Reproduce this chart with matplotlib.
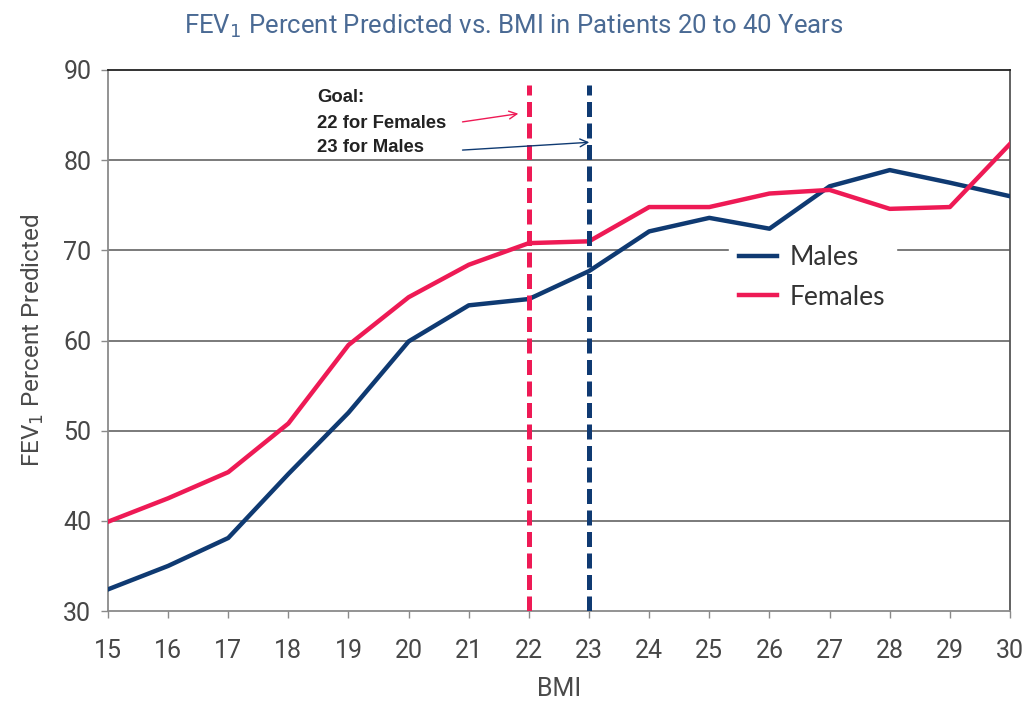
import numpy as np
import matplotlib.pyplot as plt

plt.rcParams['font.family'] = ['Roboto', 'DejaVu Sans']

bmi = np.arange(15, 31)
males = [32.4, 35.0, 38.1, 45.2, 52.0, 59.9, 63.9, 64.6, 67.7, 72.1, 73.6, 72.4, 77.1, 78.9, 77.5, 76.0]
females = [39.9, 42.5, 45.4, 50.8, 59.5, 64.8, 68.4, 70.8, 71.0, 74.8, 74.8, 76.3, 76.7, 74.6, 74.8, 81.8]

goal_f, goal_m = 22, 23
goal_lines = ['Goal:', '22 for Females', '23 for Males']

navy = '#0f3a72'
pink = '#ee1a55'
tick_col = '#474747'

fig = plt.figure(figsize=(10.34, 7.02), dpi=100)
ax = fig.add_axes([0.1044, 0.1296, 0.8724, 0.7707])

for y in range(40, 90, 10):
    ax.axhline(y, color='#7a7a7a', lw=1.4, zorder=1)

ax.plot(bmi, males, color=navy, lw=3.2, label='Males', zorder=3)
ax.plot(bmi, females, color=pink, lw=3.2, label='Females', zorder=3)

# goal markers
ax.vlines(goal_f, 30, 88.3, colors=pink, lw=3.6, linestyles=(0, (3, 1.3)), zorder=4)
ax.vlines(goal_m, 30, 88.3, colors=navy, lw=3.6, linestyles=(0, (3, 1.3)), zorder=4)

for txt, yy in zip(goal_lines, [86.9, 84.1, 81.35]):
    ax.text(18.48, yy, txt, fontsize=13.3, fontweight='bold', color='#222222',
            family=['Liberation Sans'], va='center', zorder=5)
ax.annotate('', xy=(21.87, 85.2), xytext=(20.85, 84.2),
            arrowprops=dict(arrowstyle='->', color=pink, lw=1.0, mutation_scale=14), zorder=5)
ax.annotate('', xy=(23.05, 82.0), xytext=(20.85, 81.1),
            arrowprops=dict(arrowstyle='->', color=navy, lw=1.0, mutation_scale=14), zorder=5)

ax.set_xlim(15, 30)
ax.set_ylim(30, 90)
ax.set_xticks(bmi)
ax.set_yticks(range(30, 91, 10))
ax.tick_params(axis='both', colors='#8a8a8a', labelcolor=tick_col, labelsize=18,
               length=5, width=1)
ax.tick_params(axis='x', pad=15)
ax.tick_params(axis='y', pad=7)

for side in ['left', 'bottom']:
    ax.spines[side].set_color('#8a8a8a')
ax.spines['top'].set_color('#222222')
ax.spines['right'].set_color('#555555')
for s in ax.spines.values():
    s.set_linewidth(1.3)

ax.set_xlabel('BMI', fontsize=18, color='#4a4a4a', labelpad=10)
ax.set_ylabel('FEV$_1$ Percent Predicted', fontsize=17.5, color='#4a4a4a', labelpad=12)

leg = ax.legend(loc='upper left', bbox_to_anchor=(0.688, 0.696), borderaxespad=0,
                frameon=True, prop={'family': ['Lato', 'DejaVu Sans'], 'size': 19},
                handlelength=1.42, handletextpad=0.5, labelspacing=0.55,
                borderpad=0.4, fancybox=False)
leg.get_frame().set_facecolor('white')
leg.get_frame().set_edgecolor('white')
leg.get_frame().set_alpha(1)
leg.set_zorder(2)
for t in leg.get_texts():
    t.set_color('#333333')
for h in leg.get_lines():
    h.set_linewidth(3.2)

fig.text(0.497, 0.963, 'FEV$_1$ Percent Predicted vs. BMI in Patients 20 to 40 Years',
         ha='center', va='center', fontsize=18.5, color='#4a6a94')

fig.savefig('out.png', dpi=100, facecolor='white')
